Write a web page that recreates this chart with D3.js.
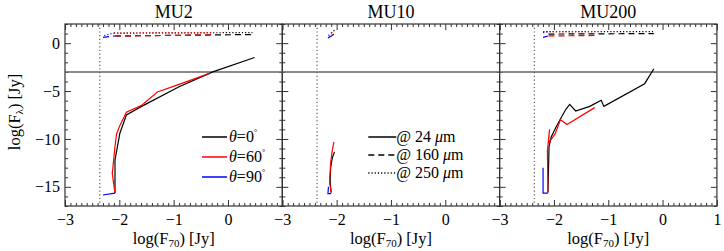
<!DOCTYPE html>
<html>
<head>
<meta charset="utf-8">
<script src="https://cdn.jsdelivr.net/npm/d3@7"></script>
<style>
  body { margin: 0; background: #fff; }
  svg text { font-family: "Liberation Serif", "DejaVu Serif", serif; fill: #000; }
</style>
</head>
<body>
<div id="app"></div>
<script>
// ---------- DATA (log F70 , log F_lambda) ----------

const PANELS = ["MU2", "MU10", "MU200"];
const THETAS = ["0", "60", "90"];
const WAVES = ["24", "160", "250"];
const X_TICKS = [-3, -2, -1, 0, 1];
const Y_TICKS = [0, -5, -10, -15];
const F70_LIMIT = -2.36;
const FLUX_LIMIT = -3;

// MU2
const mu2_t0_24 = [[0.49, -1.5], [-0.28, -3.0], [-0.9, -4.55], [-1.59, -6.6], [-1.87, -7.5], [-1.99, -9.4], [-2.08, -12.2], [-2.08, -15.65]];
const mu2_t60_24 = [[-0.34, -3.15], [-0.9, -4.3], [-1.3, -5.1], [-1.59, -6.5], [-1.87, -7.2], [-1.99, -8.6], [-2.05, -9.45], [-2.08, -10.8], [-2.13, -13.6], [-2.08, -15.65]];
const mu2_t90_24 = [[-2.30, -15.85], [-2.08, -15.65]];
const mu2_t0_160 = [[-2.08, 0.75], [0.45, 0.9]];
const mu2_t60_160 = [[-2.08, 0.75], [-0.3, 0.85]];
const mu2_t90_160 = [[-2.30, 0.6], [-2.08, 0.75]];
const mu2_t0_250 = [[-2.10, 1.05], [0.45, 1.1]];
const mu2_t60_250 = [[-2.10, 1.05], [-0.3, 1.1]];
const mu2_t90_250 = [[-2.28, 0.8], [-2.10, 1.05]];

// MU10
const mu10_t0_24 = [[-2.10, -15.6], [-2.12, -14.5], [-2.11, -13.0], [-2.08, -12.0], [-2.04, -11.35]];
const mu10_t60_24 = [[-2.10, -15.6], [-2.13, -14.5], [-2.11, -12.5], [-2.08, -11.2], [-2.05, -10.3]];
const mu10_t90_24 = [[-2.15, -15.0], [-2.16, -15.7], [-2.10, -15.7]];
const mu10_t0_160 = [[-2.10, 0.75], [-2.05, 0.95]];
const mu10_t60_160 = [[-2.10, 0.75], [-2.06, 0.9]];
const mu10_t90_160 = [[-2.16, 0.55], [-2.10, 0.75]];
const mu10_t0_250 = [[-2.10, 1.05], [-2.04, 1.35]];
const mu10_t60_250 = [[-2.10, 1.05], [-2.05, 1.3]];
const mu10_t90_250 = [[-2.15, 0.8], [-2.10, 1.05]];

// MU200
const mu200_t0_24 = [[-2.11, -15.6], [-2.09, -10.8], [-2.05, -9.8], [-1.96, -8.75], [-1.86, -7.7], [-1.78, -6.9], [-1.71, -6.4], [-1.60, -7.08], [-1.34, -6.6], [-1.13, -5.97], [-1.08, -6.6], [-0.33, -4.23], [-0.16, -2.67]];
const mu200_t60_24 = [[-2.11, -15.6], [-2.12, -11.2], [-2.08, -9.0], [-2.10, -10.4], [-1.98, -9.5], [-1.88, -8.0], [-1.76, -8.5], [-1.25, -6.73]];
const mu200_t90_24 = [[-2.20, -13.0], [-2.20, -15.65], [-2.11, -15.65]];
const mu200_t0_160 = [[-2.10, 0.95], [-0.16, 1.0]];
const mu200_t60_160 = [[-2.10, 0.75], [-1.25, 0.8]];
const mu200_t90_160 = [[-2.20, 0.6], [-2.11, 0.75]];
const mu200_t0_250 = [[-2.20, 1.2], [-0.16, 1.2]];
const mu200_t60_250 = [[-2.20, 1.2], [-1.25, 1.2]];
const mu200_t90_250 = [[-2.20, 1.1], [-2.11, 1.2]];

const CURVES = {
    MU2: [[mu2_t0_24, mu2_t0_160, mu2_t0_250], [mu2_t60_24, mu2_t60_160, mu2_t60_250], [mu2_t90_24, mu2_t90_160, mu2_t90_250]],
    MU10: [[mu10_t0_24, mu10_t0_160, mu10_t0_250], [mu10_t60_24, mu10_t60_160, mu10_t60_250], [mu10_t90_24, mu10_t90_160, mu10_t90_250]],
    MU200: [[mu200_t0_24, mu200_t0_160, mu200_t0_250], [mu200_t60_24, mu200_t60_160, mu200_t60_250], [mu200_t90_24, mu200_t90_160, mu200_t90_250]]
};


// ---------- LAYOUT ----------

const WIDTH = 724, HEIGHT = 251;
const LEFT = 65, PANEL_W = 217.3;
const TOP = 24, BOTTOM = 206;
const COLORS = ["#000000", "#ff0000", "#0000ff"];
const DASHES = [null, "6,4", "1.2,2"];
const AXIS_COLOR = "#333";
const MINUS = s => String(s).replace("-", "\u2212");

const svg = d3.select("#app").append("svg")
    .attr("width", WIDTH)
    .attr("height", HEIGHT);

const y = d3.scaleLinear().domain([-17, 2]).range([BOTTOM, TOP]);

const minorX = d3.range(-30, 11).map(d => d / 10).filter(d => !X_TICKS.includes(d));
const minorY = d3.range(-17, 3).filter(d => d % 5 !== 0);

function styleAxis(g) {
    g.select(".domain").remove();
    g.selectAll("line").attr("stroke", AXIS_COLOR).attr("stroke-width", 1);
}

PANELS.forEach((name, p) => {
    const x0 = LEFT + p * PANEL_W;
    const x = d3.scaleLinear().domain([-3, 1]).range([x0, x0 + PANEL_W]);
    const g = svg.append("g");

    // clip for curves
    const clipId = "clip" + p;
    svg.append("clipPath").attr("id", clipId)
        .append("rect").attr("x", x0).attr("y", TOP).attr("width", PANEL_W).attr("height", BOTTOM - TOP);

    // inward ticks on all four sides
    [[d3.axisBottom, BOTTOM], [d3.axisTop, TOP]].forEach(([ax, pos]) => {
        g.append("g").attr("transform", `translate(0,${pos})`)
            .call(ax(x).tickValues(X_TICKS).tickSize(-6).tickFormat(""))
            .call(styleAxis);
        g.append("g").attr("transform", `translate(0,${pos})`)
            .call(ax(x).tickValues(minorX).tickSize(-3).tickFormat(""))
            .call(styleAxis);
    });
    [[d3.axisLeft, x0], [d3.axisRight, x0 + PANEL_W]].forEach(([ax, pos]) => {
        g.append("g").attr("transform", `translate(${pos},0)`)
            .call(ax(y).tickValues(Y_TICKS).tickSize(-6).tickFormat(""))
            .call(styleAxis);
        g.append("g").attr("transform", `translate(${pos},0)`)
            .call(ax(y).tickValues(minorY).tickSize(-3).tickFormat(""))
            .call(styleAxis);
    });

    // x tick labels
    const xLabels = p === 2 ? X_TICKS : X_TICKS.slice(0, 4);
    g.append("g").attr("transform", `translate(0,${BOTTOM})`)
        .call(d3.axisBottom(x).tickValues(xLabels).tickSize(0).tickPadding(8).tickFormat(MINUS))
        .call(g2 => g2.select(".domain").remove())
        .selectAll("text").style("font-size", "16px").attr("fill", "#000");

    // y tick labels on first panel only
    if (p === 0) {
        g.append("g").attr("transform", `translate(${x0},0)`)
            .call(d3.axisLeft(y).tickValues(Y_TICKS).tickSize(0).tickPadding(5).tickFormat(MINUS))
            .call(g2 => g2.select(".domain").remove())
            .selectAll("text").style("font-size", "16px").attr("fill", "#000");
    }

    // frame
    g.append("rect")
        .attr("x", x0).attr("y", TOP)
        .attr("width", PANEL_W).attr("height", BOTTOM - TOP)
        .attr("fill", "none").attr("stroke", AXIS_COLOR).attr("stroke-width", 1.2);

    // F70 detection limit
    g.append("line")
        .attr("x1", x(F70_LIMIT)).attr("x2", x(F70_LIMIT))
        .attr("y1", TOP).attr("y2", BOTTOM)
        .attr("stroke", "#666").attr("stroke-width", 1.3).attr("stroke-dasharray", "1.2,2.5");

    // flux limit
    g.append("line")
        .attr("x1", x0).attr("x2", x0 + PANEL_W)
        .attr("y1", y(FLUX_LIMIT)).attr("y2", y(FLUX_LIMIT))
        .attr("stroke", "#666").attr("stroke-width", 1.5);

    // curves
    const line = d3.line().x(d => x(d[0])).y(d => y(d[1]));
    const cg = g.append("g").attr("clip-path", `url(#${clipId})`);
    CURVES[name].forEach((byWave, t) => {
        byWave.forEach((pts, w) => {
            cg.append("path")
                .attr("d", line(pts))
                .attr("fill", "none")
                .attr("stroke", COLORS[t])
                .attr("stroke-width", 1.2)
                .attr("stroke-dasharray", DASHES[w]);
        });
    });

    // title
    svg.append("text")
        .attr("x", x0 + PANEL_W / 2).attr("y", 18)
        .attr("text-anchor", "middle")
        .style("font-size", "18px")
        .text(name);

    // x axis label
    const xl = svg.append("text")
        .attr("x", x0 + PANEL_W / 2).attr("y", 244)
        .attr("text-anchor", "middle")
        .style("font-size", "16.5px");
    xl.append("tspan").text("log(F");
    xl.append("tspan").attr("dy", 3).style("font-size", "11px").text("70");
    xl.append("tspan").attr("dy", -3).text(")  [Jy]");

    // legends
    if (p === 0) {
        THETAS.forEach((th, i) => {
            const ly = 137 + i * 20;
            g.append("line").attr("x1", x0 + 137).attr("x2", x0 + 162)
                .attr("y1", ly).attr("y2", ly)
                .attr("stroke", COLORS[i]).attr("stroke-width", 1.5);
            const t = g.append("text").attr("x", x0 + 164).attr("y", ly + 5).style("font-size", "16px");
            t.append("tspan").style("font-style", "italic").text("\u03b8");
            t.append("tspan").text("=" + th);
            t.append("tspan").attr("dy", -7).style("font-size", "8px").text("\u00b0");
        });
    }
    if (p === 1) {
        WAVES.forEach((wl, i) => {
            const ly = 137 + i * 18;
            g.append("line").attr("x1", x0 + 86).attr("x2", x0 + 114)
                .attr("y1", ly).attr("y2", ly)
                .attr("stroke", "#000").attr("stroke-width", 1.5)
                .attr("stroke-dasharray", DASHES[i]);
            const t = g.append("text").attr("x", x0 + 114).attr("y", ly + 5).style("font-size", "16px");
            t.append("tspan").text("@ " + wl + " ");
            t.append("tspan").style("font-style", "italic").text("\u03bc");
            t.append("tspan").text("m");
        });
    }
});

// y axis label
const yl = svg.append("text")
    .attr("transform", `translate(20, ${(TOP + BOTTOM) / 2 - 3}) rotate(-90)`)
    .attr("text-anchor", "middle")
    .style("font-size", "16.5px");
yl.append("tspan").text("log(F");
yl.append("tspan").attr("dy", 3).style("font-size", "11px").text("\u03bb");
yl.append("tspan").attr("dy", -3).text(")  [Jy]");
</script>
</body>
</html>
